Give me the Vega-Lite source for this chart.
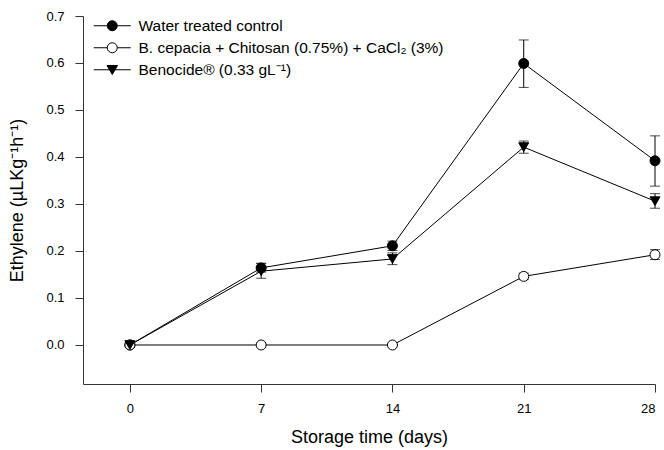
{
  "$schema": "https://vega.github.io/schema/vega-lite/v6.json",
  "autosize": "none",
  "width": 572,
  "height": 368,
  "padding": {"left": 83, "top": 16, "right": 9, "bottom": 66},
  "background": "white",
  "config": {
    "font": "Liberation Sans",
    "view": {"stroke": null},
    "axis": {"grid": false, "domainColor": "#333", "tickColor": "#333", "labelColor": "black", "titleColor": "black", "labelFont": "Liberation Sans", "titleFont": "Liberation Sans", "labelFontSize": 13, "titleFontSize": 18, "titleFontWeight": "normal"}
  },
  "data": {
    "values": [
      {"series": "Water treated control", "day": 0, "mean": 0.0, "lo": -0.004, "hi": 0.004},
      {"series": "Water treated control", "day": 7, "mean": 0.164, "lo": 0.155, "hi": 0.174},
      {"series": "Water treated control", "day": 14, "mean": 0.211, "lo": 0.201, "hi": 0.221},
      {"series": "Water treated control", "day": 21, "mean": 0.599, "lo": 0.548, "hi": 0.649},
      {"series": "Water treated control", "day": 28, "mean": 0.392, "lo": 0.338, "hi": 0.445},
      {"series": "B. cepacia + Chitosan (0.75%) + CaCl₂ (3%)", "day": 0, "mean": 0.0, "lo": 0.0, "hi": 0.0},
      {"series": "B. cepacia + Chitosan (0.75%) + CaCl₂ (3%)", "day": 7, "mean": 0.0, "lo": 0.0, "hi": 0.0},
      {"series": "B. cepacia + Chitosan (0.75%) + CaCl₂ (3%)", "day": 14, "mean": 0.0, "lo": 0.0, "hi": 0.0},
      {"series": "B. cepacia + Chitosan (0.75%) + CaCl₂ (3%)", "day": 21, "mean": 0.146, "lo": 0.139, "hi": 0.153},
      {"series": "B. cepacia + Chitosan (0.75%) + CaCl₂ (3%)", "day": 28, "mean": 0.192, "lo": 0.182, "hi": 0.203},
      {"series": "Benocide® (0.33 gL⁻¹)", "day": 0, "mean": 0.0, "lo": -0.004, "hi": 0.004},
      {"series": "Benocide® (0.33 gL⁻¹)", "day": 7, "mean": 0.157, "lo": 0.142, "hi": 0.173},
      {"series": "Benocide® (0.33 gL⁻¹)", "day": 14, "mean": 0.183, "lo": 0.171, "hi": 0.196},
      {"series": "Benocide® (0.33 gL⁻¹)", "day": 21, "mean": 0.421, "lo": 0.408, "hi": 0.434},
      {"series": "Benocide® (0.33 gL⁻¹)", "day": 28, "mean": 0.306, "lo": 0.291, "hi": 0.322}
    ]
  },
  "encoding": {
    "x": {"field": "day", "type": "quantitative", "scale": {"domain": [-2.5, 28], "nice": false, "zero": false},
      "axis": {"values": [0, 7, 14, 21, 28], "tickSize": 8, "labelPadding": 10, "title": "Storage time (days)", "titlePadding": 13}}
  },
  "resolve": {"scale": {"shape": "independent", "fill": "independent", "stroke": "independent"}},
  "layer": [
    {
      "mark": {"type": "line", "color": "black", "strokeWidth": 1},
      "encoding": {
        "y": {"field": "mean", "type": "quantitative", "scale": {"domain": [-0.083, 0.7], "nice": false, "zero": false},
          "axis": {"values": [0, 0.1, 0.2, 0.3, 0.4, 0.5, 0.6, 0.7], "format": ".1f", "tickSize": 8, "labelPadding": 11, "title": "Ethylene (µLKg⁻¹h⁻¹)", "titlePadding": 19}},
        "detail": {"field": "series"}
      }
    },
    {
      "mark": {"type": "rule", "color": "black", "strokeWidth": 1},
      "encoding": {
        "y": {"field": "lo", "type": "quantitative"},
        "y2": {"field": "hi"}
      }
    },
    {
      "mark": {"type": "tick", "orient": "horizontal", "color": "black", "size": 10, "thickness": 1},
      "encoding": {"y": {"field": "lo", "type": "quantitative"}}
    },
    {
      "mark": {"type": "tick", "orient": "horizontal", "color": "black", "size": 10, "thickness": 1},
      "encoding": {"y": {"field": "hi", "type": "quantitative"}}
    },
    {
      "mark": {"type": "point", "filled": false, "stroke": "black", "strokeWidth": 1, "size": 100, "opacity": 1},
      "encoding": {
        "y": {"field": "mean", "type": "quantitative"},
        "shape": {"field": "series", "type": "nominal",
          "scale": {"domain": ["Water treated control", "B. cepacia + Chitosan (0.75%) + CaCl₂ (3%)", "Benocide® (0.33 gL⁻¹)"], "range": ["circle", "circle", "triangle-down"]},
          "legend": null},
        "fill": {"field": "series", "type": "nominal",
          "scale": {"domain": ["Water treated control", "B. cepacia + Chitosan (0.75%) + CaCl₂ (3%)", "Benocide® (0.33 gL⁻¹)"], "range": ["black", "white", "black"]},
          "legend": null}
      }
    },
    {
      "transform": [{"filter": "datum.day > 100"}],
      "mark": {"type": "point", "filled": false, "strokeWidth": 1, "size": 100, "opacity": 1},
      "encoding": {
        "y": {"field": "mean", "type": "quantitative"},
        "shape": {"field": "series", "type": "nominal",
          "scale": {"domain": ["Water treated control", "B. cepacia + Chitosan (0.75%) + CaCl₂ (3%)", "Benocide® (0.33 gL⁻¹)"],
            "range": ["M-3.7,0H-1M1,0H3.7M-1,0A1,1 0 1,0 1,0A1,1 0 1,0 -1,0Z", "M-3.7,0H-1M1,0H3.7M-1,0A1,1 0 1,0 1,0A1,1 0 1,0 -1,0Z", "M-3.7,0H3.7M-1.05,-0.85L1.05,-0.85L0,0.95Z"]},
          "legend": {
            "orient": "none", "legendX": 21.5, "legendY": 2, "title": null, "padding": 0,
            "labelFontSize": 15.5, "labelFont": "Liberation Sans", "labelColor": "black", "labelOffset": 18.5, "labelLimit": 500,
            "symbolSize": 100, "rowPadding": 5, "symbolStrokeColor": "black", "symbolStrokeWidth": 1, "symbolOpacity": 1
          }
        },
        "fill": {"field": "series", "type": "nominal",
          "scale": {"domain": ["Water treated control", "B. cepacia + Chitosan (0.75%) + CaCl₂ (3%)", "Benocide® (0.33 gL⁻¹)"], "range": ["black", "white", "black"]},
          "legend": null},
        "stroke": {"field": "series", "type": "nominal",
          "scale": {"domain": ["Water treated control", "B. cepacia + Chitosan (0.75%) + CaCl₂ (3%)", "Benocide® (0.33 gL⁻¹)"], "range": ["black", "black", "black"]},
          "legend": null}
      }
    }
  ]
}
